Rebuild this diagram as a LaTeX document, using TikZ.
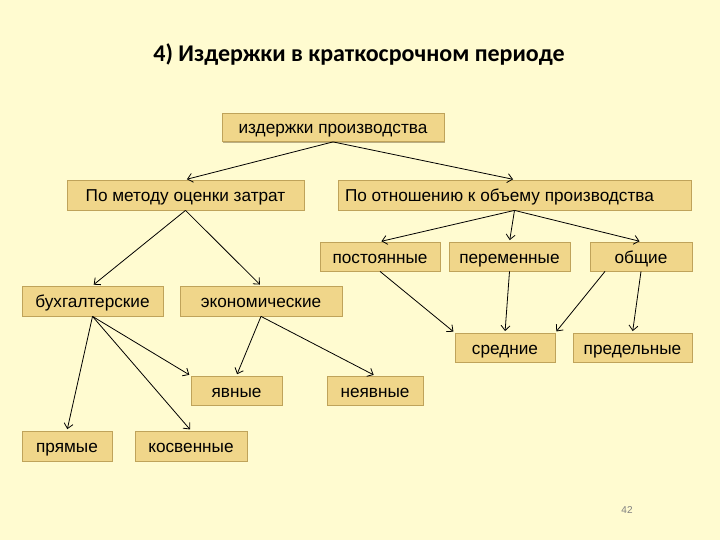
\documentclass[tikz,border=0pt]{standalone}
\usepackage{fontspec}
\setmainfont{Liberation Sans}
\newfontfamily\titlefont{Carlito}
\usetikzlibrary{arrows.meta,shadows,calc}
\definecolor{bg}{HTML}{FFFBD0}
\definecolor{boxfill}{HTML}{F0D68A}
\definecolor{boxline}{HTML}{BFA35A}
\definecolor{shadowc}{HTML}{8C7B50}
\begin{document}
\begin{tikzpicture}[x=1pt,y=-1pt,
  box/.style={draw=boxline, line width=0.8pt, fill=boxfill, inner sep=0pt,
    text height=14.5pt, text depth=1.5pt,
    font=\fontsize{17.2}{20}\selectfont,
    drop shadow={shadow xshift=1.2pt, shadow yshift=-1.2pt, opacity=0.6, fill=shadowc}},
  conn/.style={-{Straight Barb[length=5pt,width=9pt]}, line width=0.8pt, shorten >=1.5pt}]
\fill[bg] (0,0) rectangle (720,540);
\useasboundingbox (0,0) rectangle (720,540);
\node[font=\titlefont\bfseries\fontsize{24}{28}\selectfont] (title) at (359,55) {4) Издержки в краткосрочном периоде};
\newcommand{\bx}[6]{\node[box, minimum width=#4pt, minimum height=#5pt] (#1) at (#2,#3) {#6};}
\bx{top}{333}{127.5}{222}{28}{издержки производства}
\bx{m1}{185.5}{195}{237}{30}{По методу оценки затрат}
\bx{m2}{514.5}{195}{353}{30}{\makebox[339pt][l]{По отношению к объему производства}}
\bx{post}{380}{256.5}{120}{29}{постоянные}
\bx{per}{509.5}{256.5}{121}{29}{переменные}
\bx{ob}{641}{256.5}{102}{29}{общие}
\bx{bux}{92.5}{301}{141}{30}{бухгалтерские}
\bx{eko}{261}{301}{162}{30}{экономические}
\bx{sred}{505}{347.5}{100}{29}{средние}
\bx{pred}{632.5}{347.5}{119}{29}{предельные}
\bx{yav}{236.5}{390.5}{91}{29}{явные}
\bx{neyav}{375}{390.5}{96}{29}{неявные}
\bx{pr}{67}{446}{90}{30}{прямые}
\bx{kos}{191}{446}{112}{30}{косвенные}
\node[text=gray, font=\fontsize{10}{12}\selectfont] (num) at (627,510) {42};
\coordinate (obs) at ($(ob.south west)!0.15!(ob.south east)$);
\draw[conn] (top.south) -- (m1.north);
\draw[conn] (top.south) -- (m2.north);
\draw[conn] (m2.south) -- (post.north);
\draw[conn] (m2.south) -- (per.north);
\draw[conn] (m2.south) -- (ob.north);
\draw[conn] (m1.south) -- (bux.north);
\draw[conn] (m1.south) -- (eko.north);
\draw[conn] (bux.south) -- (pr.north);
\draw[conn] (bux.south) -- (kos.north);
\draw[conn] (bux.south) -- (yav.north west);
\draw[conn] (eko.south) -- (yav.north);
\draw[conn] (eko.south) -- (neyav.north);
\draw[conn] (post.south) -- (sred.north west);
\draw[conn] (per.south) -- (sred.north);
\draw[conn] (obs) -- (sred.north east);
\draw[conn] (ob.south) -- (pred.north);
\end{tikzpicture}
\end{document}
